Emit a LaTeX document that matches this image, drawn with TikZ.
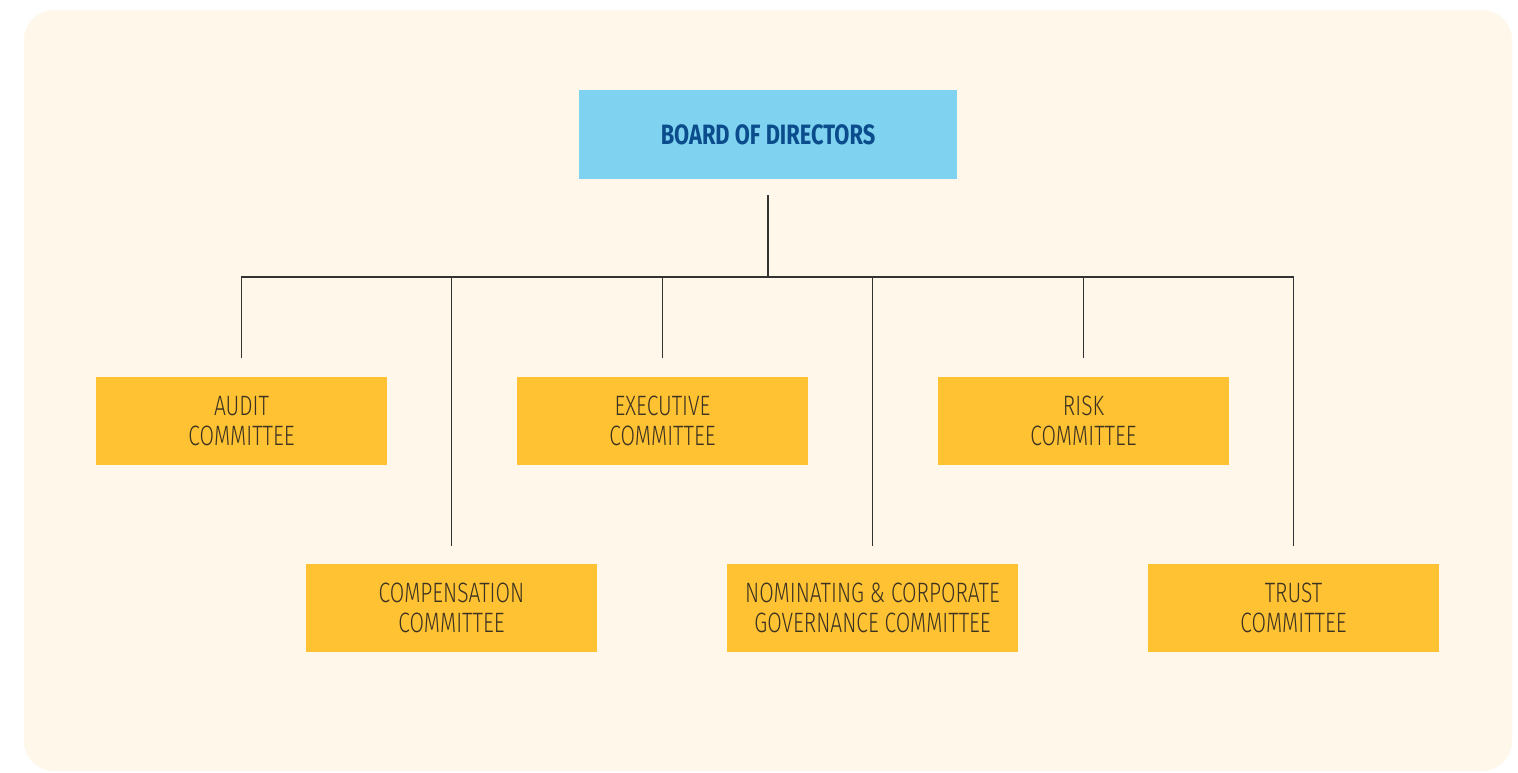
\documentclass[tikz,border=0pt]{standalone}
\usepackage{fontspec}
\usetikzlibrary{calc}
\setmainfont{Fira Sans}
\newfontfamily\boxfont[FakeStretch=0.75]{Fira Sans Light}
\newfontfamily\headfont[FakeStretch=0.78]{Fira Sans}
\definecolor{cream}{HTML}{FEF7EA}
\definecolor{skyfill}{HTML}{7FD3F0}
\definecolor{navytext}{HTML}{0B4D8C}
\definecolor{goldfill}{HTML}{FFC233}
\definecolor{inktext}{HTML}{3B3221}
\definecolor{linkline}{HTML}{333333}
\tikzset{
  board/.style={fill=skyfill, minimum width=378pt, minimum height=89pt, inner sep=0pt,
    font=\headfont\bfseries\fontsize{28}{30}\selectfont, text=navytext},
  committee/.style={fill=goldfill, minimum width=291pt, minimum height=88pt, inner sep=0pt,
    align=center, font=\boxfont\fontsize{28}{29.5}\selectfont, text=inktext},
  link/.style={draw=linkline, line width=1.2pt}
}
\begin{document}
\begin{tikzpicture}[x=1pt,y=-1pt]
  \useasboundingbox (0,0) rectangle (1518,772);
  \fill[white] (0,0) rectangle (1518,772);
  \fill[cream, rounded corners=30pt] (24,10) rectangle (1512,771);

  % board and committees
  \node[board] (board) at (768,134.5) {BOARD OF DIRECTORS};
  \node[committee] (audit) at (241.5,421) {AUDIT\\COMMITTEE};
  \node[committee] (exec)  at (662.5,421) {EXECUTIVE\\COMMITTEE};
  \node[committee] (risk)  at (1083.5,421) {RISK\\COMMITTEE};
  \node[committee] (comp)  at (451.5,608) {COMPENSATION\\COMMITTEE};
  \node[committee] (nom)   at (872.5,608) {NOMINATING \& CORPORATE\\GOVERNANCE COMMITTEE};
  \node[committee] (trust) at (1293.5,608) {TRUST\\COMMITTEE};

  % connector ends, kept clear of the boxes
  \coordinate (stem) at ($(board.south)+(0,16)$);
  \coordinate (hub) at (768,277);
  \foreach \n in {audit,exec,risk}
    \coordinate (\n-top) at ($(\n.north)+(0,-19)$);
  \foreach \n in {comp,nom,trust}
    \coordinate (\n-top) at ($(\n.north)+(0,-18)$);

  \draw[link] (stem) -- (hub);
  \draw[link] (audit-top) |- (hub) -| (trust-top);
  \foreach \n in {exec,risk,comp,nom}
    \draw[link] (\n-top) -- (\n-top |- hub);
\end{tikzpicture}
\end{document}
